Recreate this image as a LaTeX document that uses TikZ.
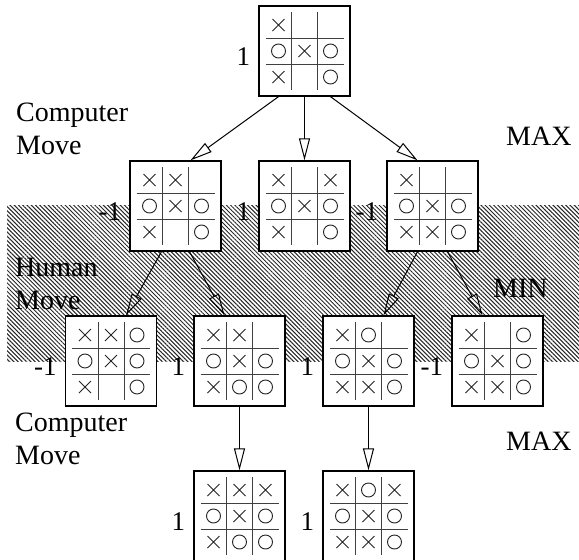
\documentclass[tikz,border=0pt]{standalone}
\usepackage{fontspec}
\setmainfont{Liberation Serif}
\usetikzlibrary{arrows.meta,patterns.meta}
\tikzset{
 boardbox/.style={draw, line width=1.3pt, fill=white, minimum width=91pt, minimum height=90pt, inner sep=0pt},
 gridline/.style={draw=black!75, line width=1pt},
 markline/.style={draw=black!85, line width=0.9pt},
 vlabel/.style={font=\fontsize{27}{30}\selectfont, inner sep=0pt, anchor=base east},
 sidetext/.style={font=\fontsize{28}{33}\selectfont, inner sep=0pt, align=left, anchor=north west},
 minmax/.style={font=\fontsize{28}{33}\selectfont, inner sep=0pt, anchor=base west},
 move/.style={draw, line width=1pt, -{Triangle[open, length=22pt, width=11pt, line width=1pt]}},
}
\def\xmk{x}\def\omk{o}
\newcommand\tttboard[5]{%
  \node[boardbox] (#1) at (#2,#3) {};
  \node[vlabel] (#1l) at ([xshift=-8pt, yshift=-14pt]#1.west) {#4};
  \begin{scope}[shift={(#2,#3)}]
    \draw[gridline] (-13,-39) -- (-13,39) (13,-39) -- (13,39) (-39,-13) -- (39,-13) (-39,13) -- (39,13);
    \foreach \m [count=\k from 0] in {#5} {
      \pgfmathtruncatemacro\col{mod(\k,3)-1}
      \pgfmathtruncatemacro\row{int(\k/3)-1}
      \ifx\m\xmk
        \draw[markline] (\col*26-6,\row*26-6) -- (\col*26+6,\row*26+6) (\col*26-6,\row*26+6) -- (\col*26+6,\row*26-6);
      \fi
      \ifx\m\omk
        \draw[markline] (\col*26,\row*26) circle[radius=7pt];
      \fi
    }
  \end{scope}}
\begin{document}
\begin{tikzpicture}[x=1pt,y=-1pt]
\useasboundingbox (0,0) rectangle (579,560);
\clip (0,0) rectangle (579,560);
% hatched band
\fill[pattern={Lines[angle=-45,distance=3pt,line width=1pt]}, pattern color=black!85] (7,205) rectangle (579,361);
% boards
\tttboard{top}{304.5}{51}{1}{x,n,n,o,x,o,x,n,o}
\tttboard{ra}{175.5}{206}{-1}{x,x,n,o,x,o,x,n,o}
\tttboard{rb}{304.5}{206}{1}{x,n,x,o,x,o,x,n,o}
\tttboard{rc}{432.5}{206}{-1}{x,n,n,o,x,o,x,x,o}
\tttboard{sa}{111}{361}{-1}{x,x,o,o,x,o,x,n,o}
\tttboard{sb}{239.5}{361}{1}{x,x,n,o,x,o,x,o,o}
\tttboard{sc}{368.5}{361}{1}{x,o,n,o,x,o,x,x,o}
\tttboard{sd}{497.5}{361}{-1}{x,n,o,o,x,o,x,x,o}
\tttboard{ta}{239.5}{516}{1}{x,x,x,o,x,o,x,o,o}
\tttboard{tb}{368.5}{516}{1}{x,o,x,o,x,o,x,x,o}
% moves
\draw[move] ([xshift=-26pt]top.south) -- ([xshift=15pt]ra.north);
\draw[move] (top.south) -- (rb.north);
\draw[move] ([xshift=26pt]top.south) -- ([xshift=-15pt]rc.north);
\draw[move] ([xshift=-14pt]ra.south) -- ([xshift=15pt]sa.north);
\draw[move] ([xshift=14pt]ra.south) -- ([xshift=-15pt]sb.north);
\draw[move] ([xshift=-15pt]rc.south) -- ([xshift=15pt]sc.north);
\draw[move] ([xshift=15pt]rc.south) -- ([xshift=-15pt]sd.north);
\draw[move] (sb.south) -- (ta.north);
\draw[move] (sc.south) -- (tb.north);
% side texts
\node[sidetext] (cm1) at (16,103) {Computer\\Move};
\node[sidetext] (hm) at (15,258) {Human\\Move};
\node[sidetext] (cm2) at (15,413) {Computer\\Move};
\node[minmax] (max1) at (506,145) {MAX};
\node[minmax] (min1) at (493,297) {MIN};
\node[minmax] (max2) at (506,450) {MAX};
\end{tikzpicture}
\end{document}
